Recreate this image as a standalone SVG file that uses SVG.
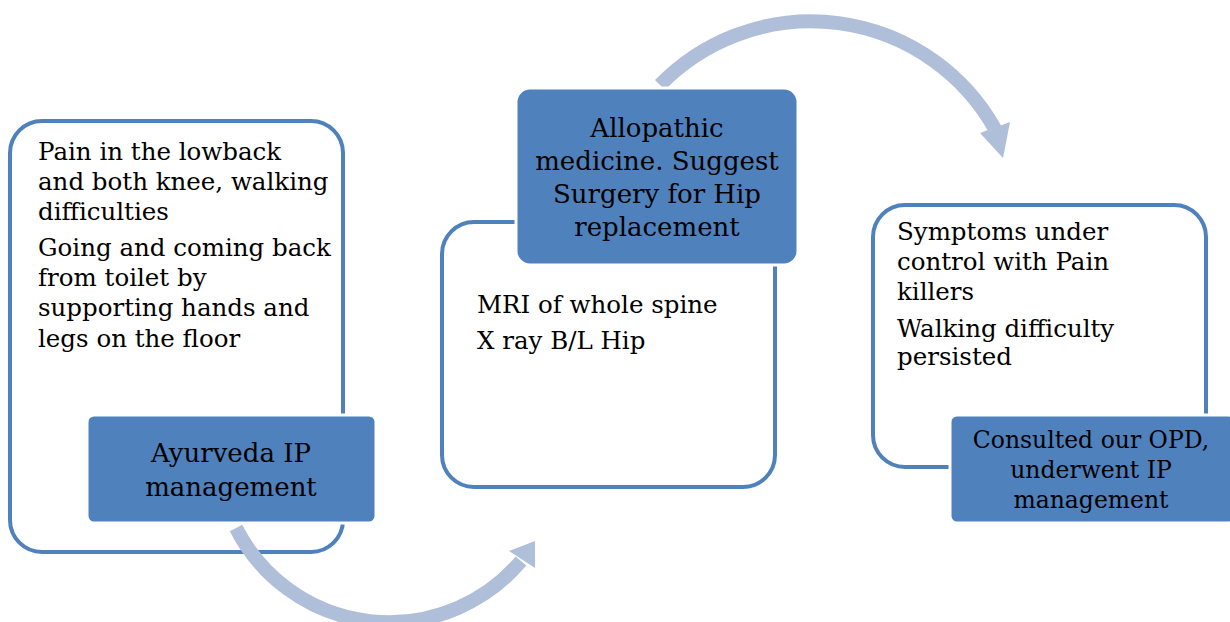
<svg xmlns="http://www.w3.org/2000/svg" width="1230" height="622" viewBox="0 0 1230 622">
<style>
.outline{fill:#ffffff;stroke:#4f81bd;stroke-width:4}
.filled{fill:#4f81bd;stroke:#ffffff;stroke-width:3}
.arc{fill:none;stroke:#b0bfd9;stroke-width:14}
.head{fill:#b0bfd9}
.t{font-family:"DejaVu Serif","Liberation Serif",serif;font-size:24.5px;fill:#000000}
.c{font-family:"DejaVu Serif","Liberation Serif",serif;font-size:26px;fill:#000000;text-anchor:middle}
.s{font-size:23.5px}
</style>
<rect width="1230" height="622" fill="#ffffff"/>
<g id="box1-outline">
<rect class="outline" x="10" y="121" width="333" height="431" rx="32"/>
<text class="t" x="38" y="160">Pain in the lowback</text>
<text class="t" x="38" y="190">and both knee, walking</text>
<text class="t" x="38" y="220">difficulties</text>
<text class="t" x="38" y="256">Going and coming back</text>
<text class="t" x="38" y="286">from toilet by</text>
<text class="t" x="38" y="316">supporting hands and</text>
<text class="t" x="38" y="347">legs on the floor</text>
</g>
<g id="box2-outline">
<rect class="outline" x="442" y="222" width="333" height="265" rx="32"/>
<text class="t" x="477" y="313">MRI of whole spine</text>
<text class="t" x="477" y="349">X ray B/L Hip</text>
</g>
<g id="box3-outline">
<rect class="outline" x="873" y="205" width="333" height="262" rx="32"/>
<text class="t" x="897" y="240">Symptoms under</text>
<text class="t" x="897" y="270">control with Pain</text>
<text class="t" x="897" y="300">killers</text>
<text class="t" x="897" y="337">Walking difficulty</text>
<text class="t" x="897" y="365">persisted</text>
</g>
<g id="connectors">
<path class="arc" d="M 236 528 A 172 172 0 0 0 521 561"/>
<polygon class="head" points="535,541 509,551 535,568"/>
<path class="arc" d="M 660 85 A 211 211 0 0 1 995 129"/>
<polygon class="head" points="1010,122 1003,158 980,133"/>
</g>
<g id="box1-label">
<rect class="filled" x="87" y="415" width="289" height="108" rx="7"/>
<text class="c" x="231" y="462">Ayurveda IP</text>
<text class="c" x="231" y="496">management</text>
</g>
<g id="box2-label">
<rect class="filled" x="516" y="88" width="282" height="177" rx="14"/>
<text class="c" x="657" y="137">Allopathic</text>
<text class="c" x="657" y="170">medicine. Suggest</text>
<text class="c" x="657" y="203">Surgery for Hip</text>
<text class="c" x="657" y="236">replacement</text>
</g>
<g id="box3-label">
<rect class="filled" x="950" y="415" width="285" height="108" rx="7"/>
<text class="c s" x="1091" y="448">Consulted our OPD,</text>
<text class="c s" x="1091" y="478">underwent IP</text>
<text class="c s" x="1091" y="508">management</text>
</g>
</svg>
